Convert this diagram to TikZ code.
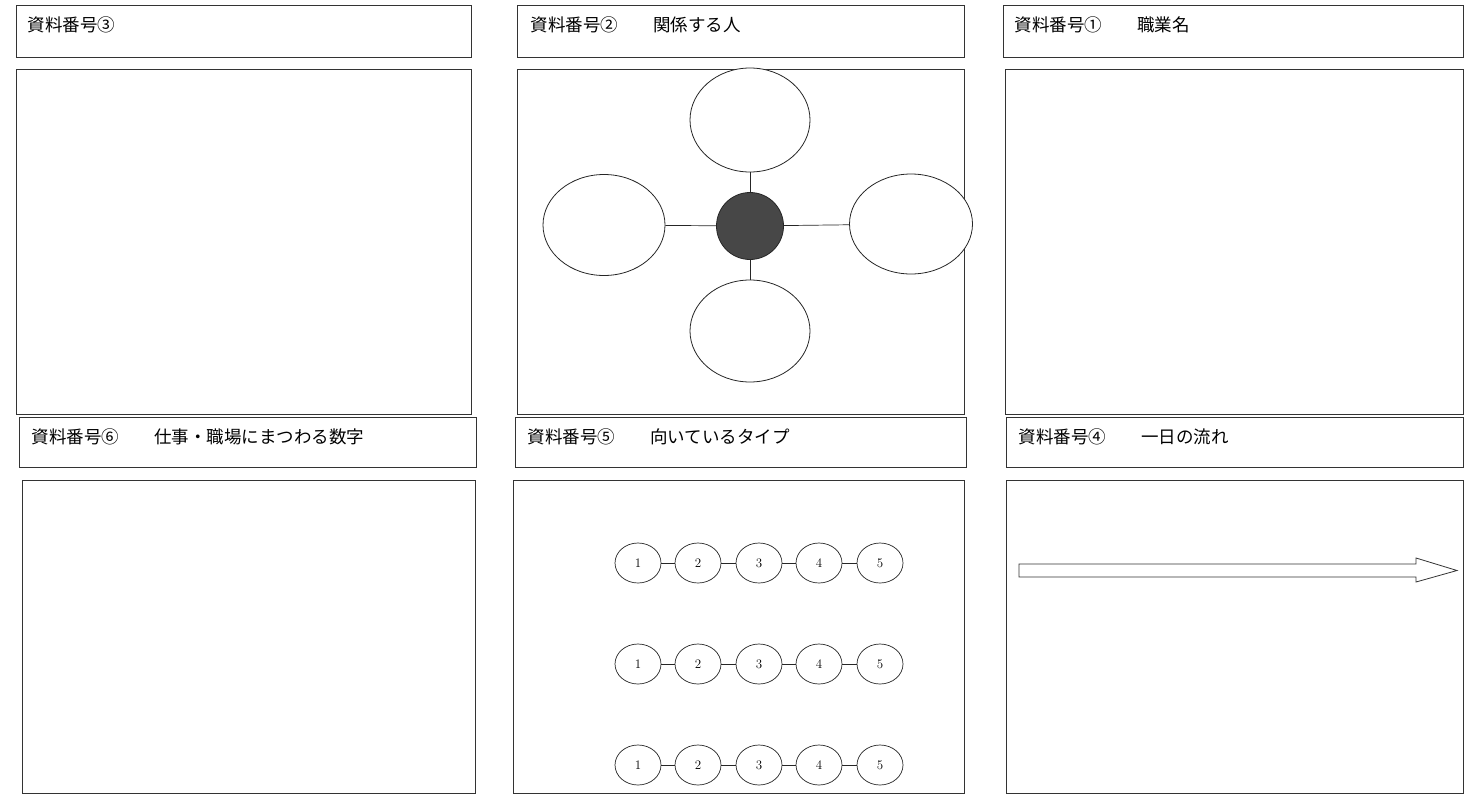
\documentclass[tikz,border=0pt]{standalone}
\usepackage{fontspec}
\newfontfamily\jpfont{Noto Sans CJK JP}
\usetikzlibrary{shapes.geometric}

\begin{document}
\begin{tikzpicture}[
  x=1pt, y=-1pt,
  titlebox/.style={draw=black!80, line width=0.9pt, inner sep=0pt},
  panel/.style={draw=black!80, line width=0.9pt, inner sep=0pt},
  head/.style={font=\jpfont\fontsize{17.5}{20}\selectfont, inner sep=0pt, anchor=west},
  bubble/.style={ellipse, draw=black!85, line width=0.8pt, fill=white, inner sep=0pt},
  hub/.style={circle, draw=black!85, line width=0.8pt, fill=black!72,
              minimum size=67pt, inner sep=0pt},
  num/.style={ellipse, draw=black!85, line width=0.7pt, fill=white,
              minimum width=46pt, minimum height=40pt, inner sep=0pt,
              font=\fontsize{13}{15}\selectfont},
  link/.style={draw=black!85, line width=0.7pt},
  flow/.style={draw=black!80, line width=0.8pt, fill=white},
]
\useasboundingbox (0,0) rectangle (1477,795);

% ====================== top row: titles and panels =====================
\node[titlebox, minimum width=455pt, minimum height=52pt] (t3) at (243.5,31) {};
\node[head] (h3) at ([xshift=12pt,yshift=6pt]t3.west) {資料番号③};
\node[panel, minimum width=455pt, minimum height=345pt] (p3) at (243.5,241.5) {};

\node[titlebox, minimum width=447pt, minimum height=52pt] (t2) at (740.5,31) {};
\node[head] (h2) at ([xshift=14pt,yshift=6pt]t2.west) {資料番号②　　関係する人};
\node[panel, minimum width=447pt, minimum height=345pt] (p2) at (740.5,241.5) {};

\node[titlebox, minimum width=460pt, minimum height=52pt] (t1) at (1233,31) {};
\node[head] (h1) at ([xshift=12pt,yshift=6pt]t1.west) {資料番号①　　職業名};
\node[panel, minimum width=458pt, minimum height=345pt] (p1) at (1234,241.5) {};

% ====================== bottom row: titles and panels ==================
\node[titlebox, minimum width=457pt, minimum height=50pt] (t6) at (247.5,442) {};
\node[head] (h6) at ([xshift=13pt,yshift=5pt]t6.west) {資料番号⑥　　仕事・職場にまつわる数字};
\node[panel, minimum width=453pt, minimum height=313pt] (p6) at (248.5,636.5) {};

\node[titlebox, minimum width=451pt, minimum height=50pt] (t5) at (740.5,442) {};
\node[head] (h5) at ([xshift=13pt,yshift=5pt]t5.west) {資料番号⑤　　向いているタイプ};
\node[panel, minimum width=451pt, minimum height=313pt] (p5) at (738.5,636.5) {};

\node[titlebox, minimum width=457pt, minimum height=50pt] (t4) at (1234.5,442) {};
\node[head] (h4) at ([xshift=13pt,yshift=5pt]t4.west) {資料番号④　　一日の流れ};
\node[panel, minimum width=457pt, minimum height=313pt] (p4) at (1234.5,636.5) {};

% ====================== (2) people around the hub ======================
\node[hub] (hub) at (750,226) {};
\node[bubble, minimum width=120pt, minimum height=104pt] (etop) at (750,120) {};
\node[bubble, minimum width=122pt, minimum height=101pt] (eleft) at (604,225) {};
\node[bubble, minimum width=123pt, minimum height=100pt] (eright) at (911,224) {};
\node[bubble, minimum width=120pt, minimum height=102pt] (ebot) at (750,331) {};
\draw[link] (hub) -- (etop);
\draw[link] (hub) -- (ebot);
\draw[link] (hub) -- (eleft);
\draw[link] (hub) -- (eright);

% ====================== (5) three 1-5 scales ===========================
\node[num] (a1) at (638,563) {1};
\node[num] (a2) at (698,563) {2};
\node[num] (a3) at (759,563) {3};
\node[num] (a4) at (819,563) {4};
\node[num] (a5) at (880,563) {5};
\draw[link] (a1) -- (a2) (a2) -- (a3) (a3) -- (a4) (a4) -- (a5);

\node[num] (b1) at (638,664) {1};
\node[num] (b2) at (698,664) {2};
\node[num] (b3) at (759,664) {3};
\node[num] (b4) at (819,664) {4};
\node[num] (b5) at (880,664) {5};
\draw[link] (b1) -- (b2) (b2) -- (b3) (b3) -- (b4) (b4) -- (b5);

\node[num] (c1) at (638,765) {1};
\node[num] (c2) at (698,765) {2};
\node[num] (c3) at (759,765) {3};
\node[num] (c4) at (819,765) {4};
\node[num] (c5) at (880,765) {5};
\draw[link] (c1) -- (c2) (c2) -- (c3) (c3) -- (c4) (c4) -- (c5);

% ====================== (4) time line arrow ============================
\draw[flow] (1019,564) -- (1416,564) -- (1416,558) -- (1457,570.5)
  -- (1416,582) -- (1416,577) -- (1019,577) -- cycle;

\end{tikzpicture}
\end{document}
